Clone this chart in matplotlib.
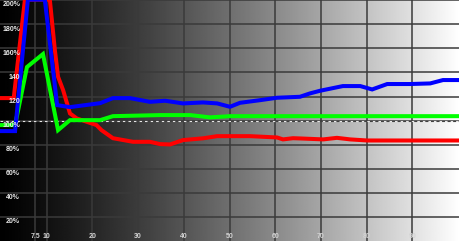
import matplotlib
matplotlib.use("Agg")
import matplotlib.pyplot as plt
import numpy as np

# measured levels (% of target) vs stimulus (%), readings capped at the 200% top
red_x = [0, 2.8, 5.25, 10.7, 11.8, 12.5, 13.6, 15.1, 16.6, 18.8, 20.9, 22, 24.5, 28.9,
         32.6, 34.8, 37, 39.8, 44.2, 47.3, 54.5, 60.4, 61.7, 63.9, 65.4, 70.5, 73.5,
         76.4, 80.1, 100.2]
red_y = [118.7, 118.7, 200.5, 200.5, 158.6, 136.4, 125.4, 106, 101.8, 99, 96.3, 92.1, 85.4, 82.4,
         82.4, 80.5, 80.2, 83.8, 85.3, 87.1, 87.1, 86, 84.4, 85.4, 85.2, 84.4, 85.7,
         84.4, 83.5, 83.5]

green_x = [0, 3.1, 5.7, 9.2, 12.5, 15.1, 21.7, 24.5, 34.8, 41.4, 45.7, 50.1, 100.2]
green_y = [96.3, 96.3, 144.5, 155.3, 92.1, 100.4, 100.4, 103.7, 104.6, 104.6, 102.7, 103.7, 103.7]

blue_x = [0, 3.1, 5.9, 9.6, 12.3, 15.1, 21.7, 24.5, 28.2, 32.6, 35.9, 39.8, 44.2, 47.3, 50.1,
          52.3, 56.7, 60.4, 65.4, 67.6, 69.8, 74.8, 78.6, 81.2, 84.5, 89.5, 93.9, 96.7, 100.2]
blue_y = [91.3, 91.3, 200.5, 200.5, 112.9, 111.2, 114.5, 118.7, 118.7, 115.6, 116.5, 114.3, 115.1,
          114.3, 111.5, 114.8, 117, 119, 119.8, 122.6, 124.8, 128.7, 128.7, 125.9, 130.4,
          130.4, 130.9, 133.7, 133.7]

x_ticks = [7.5, 10, 20, 30, 40, 50, 60, 70, 80, 90]
x_labels = ["7.5", "10", "20", "30", "40", "50", "60", "70", "80", "90"]
y_ticks = [20, 40, 60, 80, 100, 120, 140, 160, 180, 200]
y_labels = ["20%", "40%", "60%", "80%", "100%", "120", "140", "160%", "180%", "200%"]

fig = plt.figure(figsize=(4.59, 2.41), dpi=100)
ax = fig.add_axes([0, 0, 1, 1])
ax.set_xlim(-0.2, 100.2)
ax.set_ylim(0, 200.2)

# black -> white background ramp
ramp = np.linspace(0, 1, 460) ** 1.2
ax.imshow(ramp[np.newaxis, :], cmap="gray", vmin=0, vmax=1, aspect="auto",
          extent=[-0.2, 100.2, 0, 200.2], zorder=0)

for xv in x_ticks:
    ax.axvline(xv, color="#3a3a3a", lw=1.1, zorder=1)
for yv in y_ticks:
    ax.axhline(yv, color="#3a3a3a", lw=1.1, zorder=1)

# reference line at 100%
ax.axhline(100, color="#e8e8e8", lw=0.8, linestyle=(0, (2.5, 2.5)), zorder=2)
ax.axhline(100, color="#404040", lw=0.8, linestyle=(2.5, (2.5, 2.5)), zorder=2)

ax.plot(red_x, red_y, color="#ff0000", lw=2.9, zorder=3, solid_joinstyle="miter")
ax.plot(green_x, green_y, color="#00ff00", lw=2.9, zorder=4, solid_joinstyle="miter")
ax.plot(blue_x, blue_y, color="#0000ff", lw=2.9, zorder=5, solid_joinstyle="miter")

for yv, lab in zip(y_ticks, y_labels):
    ax.text(4.2, yv - 3.9, lab, color="#e8e8e8", fontsize=5, ha="right", va="center",
            family="Liberation Sans", fontweight="bold", zorder=6)
for xv, lab in zip(x_ticks, x_labels):
    ax.text(xv, 3.4, lab, color="#d4d4d4", fontsize=5, ha="center", va="center",
            family="Liberation Sans", fontweight="bold", zorder=6)

ax.axis("off")
fig.savefig("out.png", dpi=100)
